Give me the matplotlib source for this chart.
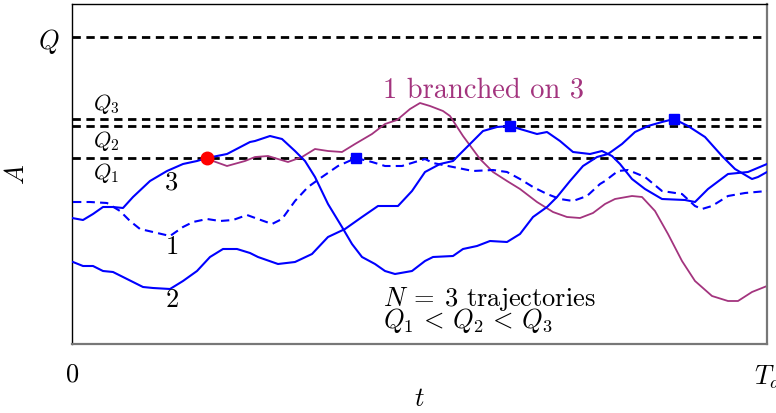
import matplotlib
matplotlib.use("Agg")
from matplotlib import pyplot as plt

plt.rcParams["font.family"] = "serif"
plt.rcParams["font.serif"] = ["cmr10"]
plt.rcParams["mathtext.fontset"] = "cm"
plt.rcParams["axes.unicode_minus"] = False

# levels
Q = 307
Q1 = 186
Q2 = 218
Q3 = 225
T_end = 695

# trajectory 3 (solid)
t3 = [0, 11, 21, 31, 41, 51, 61, 78, 95, 111, 125, 135, 155, 178, 183, 198, 210, 223, 233, 243,
      256, 270, 280, 290, 303, 313, 323, 340, 353, 361, 381, 391, 405, 418, 435, 448, 461, 475,
      485, 498, 511, 525, 536, 550, 563, 576, 590, 602, 616, 633, 650, 663, 680, 686, 695]
a3 = [126, 124, 130, 137, 137, 136, 147, 163, 173, 180, 183, 186, 190, 202, 203, 208, 205, 193,
      183, 167, 140, 117, 100, 87, 80, 73, 70, 73, 83, 87, 88, 95, 98, 103, 102, 110, 127, 137,
      147, 163, 178, 187, 190, 200, 212, 218, 222, 225, 218, 207, 188, 175, 165, 167, 172]

# trajectory 2 (solid)
t2 = [1, 11, 21, 31, 41, 51, 61, 71, 81, 98, 111, 125, 138, 151, 165, 178, 186, 206, 223, 240,
      256, 273, 290, 306, 326, 340, 353, 368, 381, 398, 411, 425, 438, 448, 465, 475, 488, 501,
      518, 530, 540, 548, 560, 573, 590, 613, 623, 636, 656, 676, 695]
a2 = [82, 78, 78, 73, 72, 67, 62, 57, 56, 55, 63, 73, 87, 95, 95, 91, 87, 80, 82, 90, 107, 115,
      127, 138, 138, 153, 172, 180, 183, 200, 213, 217, 218, 215, 210, 212, 203, 192, 190, 193,
      188, 180, 165, 155, 145, 144, 142, 155, 170, 172, 180]

# trajectory 1 (dashed)
t1 = [1, 18, 35, 48, 58, 68, 81, 98, 111, 121, 135, 148, 161, 175, 186, 200, 210, 223, 236, 250,
      266, 284, 300, 313, 330, 343, 353, 361, 381, 401, 421, 435, 448, 461, 475, 488, 501, 515,
      528, 533, 546, 556, 573, 590, 610, 623, 630, 640, 656, 673, 695]
a1 = [142, 142, 141, 133, 123, 115, 112, 108, 117, 122, 125, 123, 124, 129, 125, 120, 125, 143,
      157, 167, 178, 186, 182, 178, 178, 182, 185, 181, 177, 173, 174, 172, 165, 157, 150, 145,
      143, 148, 160, 163, 173, 174, 167, 153, 150, 138, 135, 138, 148, 151, 153]

# 1 branched on 3
tb = [135, 141, 155, 173, 183, 196, 206, 216, 230, 243, 256, 270, 283, 300, 313, 325, 338, 348,
      358, 371, 378, 391, 408, 421, 435, 448, 465, 481, 495, 508, 521, 533, 543, 560, 570, 583,
      596, 610, 623, 640, 656, 666, 680, 695]
ab = [186, 183, 178, 183, 187, 188, 185, 182, 187, 195, 193, 192, 200, 210, 220, 224, 235, 241,
      238, 233, 228, 208, 185, 172, 163, 155, 142, 132, 127, 126, 131, 140, 145, 148, 147, 133,
      110, 83, 63, 48, 43, 43, 52, 58]

branch_t = 135
square_t = [284, 438, 602]
square_a = [Q1, Q2, Q3]

magenta = "#a3347e"

fig = plt.figure(figsize=(7.76, 4.14), dpi=100)
ax = fig.add_axes([72 / 776, 1 - 345 / 414, 695 / 776, 340.5 / 414])

for lev in [Q, Q3, Q2, Q1]:
    ax.axhline(lev, color="black", lw=2, ls=(0, (3, 2)), zorder=1)

ax.plot(tb, ab, color=magenta, lw=1.3, zorder=2)
ax.plot(t3, a3, color="blue", lw=1.5, zorder=3)
ax.plot(t2, a2, color="blue", lw=1.5, zorder=3)
ax.plot(t1, a1, color="blue", lw=1.5, ls=(0, (4, 2.5)), zorder=3)
ax.plot(square_t, square_a, "s", color="blue", ms=7, zorder=5)
ax.plot([branch_t], [Q1], "o", color="red", ms=9, zorder=5)

fs = 19
ax.text(34, 241, "$Q_3$", fontsize=16, ha="center", va="center")
ax.text(34, 204, "$Q_2$", fontsize=16, ha="center", va="center")
ax.text(34, 172, "$Q_1$", fontsize=16, ha="center", va="center")
ax.text(100, 162, "3", fontsize=fs, ha="center", va="center")
ax.text(100, 98, "1", fontsize=fs, ha="center", va="center")
ax.text(100, 45, "2", fontsize=fs, ha="center", va="center")
ax.text(311, 255, "1 branched on 3", fontsize=20.5, color=magenta, ha="left", va="center")
ax.text(311, 46, r"$N\:=\:3$ trajectories", fontsize=fs, ha="left", va="center")
ax.text(311, 24, r"$Q_1\,<\,Q_2\,<\,Q_3$", fontsize=fs, ha="left", va="center")

ax.set_xlim(0, T_end)
ax.set_ylim(0, 340.5)
ax.set_xticks([0, T_end])
ax.set_xticklabels(["$0$", "$T_a$"], fontsize=fs)
ax.set_yticks([Q])
ax.set_yticklabels(["$Q$"], fontsize=fs)
ax.tick_params(length=0)
ax.tick_params(axis="x", pad=13)
ax.tick_params(axis="y", pad=9)

ax.set_xlabel("$t$", fontsize=fs)
ax.set_ylabel("$A$", fontsize=fs)
ax.xaxis.set_label_coords(0.5, -0.125)
ax.yaxis.set_label_coords(-0.062, 0.5)

ax.spines["left"].set_color("black")
ax.spines["top"].set_color("black")
ax.spines["bottom"].set_color("#777777")
ax.spines["right"].set_color("#777777")
for s in ["left", "top"]:
    ax.spines[s].set_linewidth(1.0)
for s in ["bottom", "right"]:
    ax.spines[s].set_linewidth(1.6)

fig.savefig("out.png", dpi=100)
